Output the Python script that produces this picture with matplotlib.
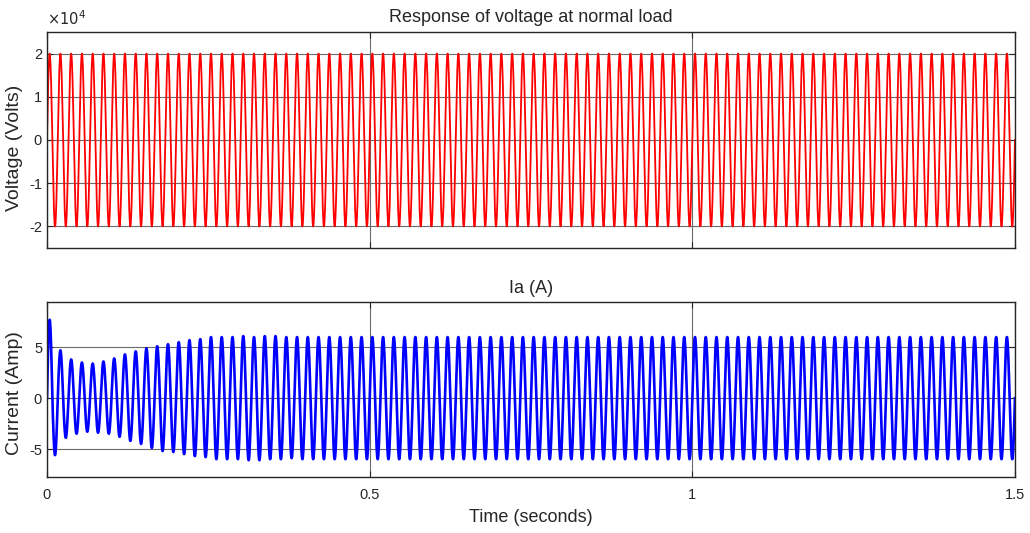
import numpy as np
import matplotlib
matplotlib.use("Agg")
import matplotlib.pyplot as plt

# signal settings
freq = 60.0          # cycles per second (30 cycles per 0.5 s)
t_end = 1.5
v_amp = 2.0e4        # voltage peak

# current: per-cycle positive peaks and negative troughs during the start-up
ia_pos = [7.7, 4.7, 3.8, 3.5, 3.4, 3.6, 3.9, 4.3, 4.6, 4.9, 5.1, 5.3,
          5.5, 5.7, 5.8, 6.0, 6.0, 6.0, 6.1, 6.0, 6.1, 6.1, 6.0]
ia_neg = [-5.6, -3.9, -3.5, -3.3, -3.4, -3.5, -3.8, -4.2, -4.5, -4.9, -5.2, -5.3,
          -5.5, -5.7, -5.8, -6.0, -6.0, -6.0, -6.1, -6.1, -6.0, -6.0, -5.9]
ia_steady = 6.0      # peak after the transient

x_ticks = [0, 0.5, 1, 1.5]
x_ticklabels = ["0", "0.5", "1", "1.5"]
v_ticks = [-2e4, -1e4, 0, 1e4, 2e4]
v_ticklabels = ["-2", "-1", "0", "1", "2"]
ia_ticks = [-5, 0, 5]


def half_cycles(pos, neg, f, n_pts=40):
    # join half sine arcs, one arc per peak value
    half = 0.5 / f
    ts, ys = [], []
    k = 0
    for p, n in zip(pos, neg):
        for a in (p, n):
            u = np.linspace(0, 1, n_pts, endpoint=False)
            ts.append((k + u) * half)
            ys.append(a * np.sin(np.pi * u))
            k += 1
    ts.append([k * half])
    ys.append([0.0])
    return np.concatenate(ts), np.concatenate(ys)


n_cycles = int(round(freq * t_end))
v_t, v = half_cycles([v_amp] * n_cycles, [-v_amp] * n_cycles, freq)
pad = n_cycles - len(ia_pos)
ia_t, ia = half_cycles(ia_pos + [ia_steady] * pad,
                       ia_neg + [-ia_steady] * pad, freq)

plt.rcParams['font.family'] = ['Liberation Sans', 'DejaVu Sans']
plt.rcParams['axes.unicode_minus'] = False
txt = '0.15'

fig = plt.figure(figsize=(10.3, 5.33), dpi=100)
ax1 = fig.add_axes([0.0456, 0.5347, 0.9398, 0.4053])
ax2 = fig.add_axes([0.0456, 0.1051, 0.9398, 0.3283])

ax1.plot(v_t, v, color='#ff0000', lw=1.3)
ax2.plot(ia_t, ia, color='#0000ff', lw=1.9)

for ax in (ax1, ax2):
    ax.set_xlim(0, t_end)
    ax.set_xticks(x_ticks)
    ax.grid(True, color='0.42', lw=0.8)
    ax.tick_params(direction='in', top=True, right=True, length=4,
                   labelsize=10.5, colors=txt, width=0.8)
    ax.tick_params(axis='x', pad=8)
    for s in ax.spines.values():
        s.set_color('0.15')
        s.set_linewidth(1.0)

ax1.set_ylim(-2.5e4, 2.5e4)
ax1.set_yticks(v_ticks)
ax1.set_yticklabels(v_ticklabels)
ax1.annotate(r'$\times10^{4}$', xy=(0, 1), xycoords='axes fraction',
             xytext=(0, 3), textcoords='offset points', ha='left', va='bottom',
             fontsize=10.5, color=txt)
ax1.set_xticklabels([])
ax1.set_ylabel("Voltage (Volts)", fontsize=14, color=txt)
ax1.yaxis.set_label_coords(-0.0245, 0.465)
ax1.set_title("Response of voltage at normal load", fontsize=13, color=txt, pad=7.2)

ax2.set_ylim(-7.75, 9.45)
ax2.set_yticks(ia_ticks)
ax2.set_xticklabels(x_ticklabels)
ax2.set_ylabel("Current (Amp)", fontsize=14, color=txt)
ax2.yaxis.set_label_coords(-0.0245, 0.48)
ax2.set_xlabel("Time (seconds)", fontsize=13, color=txt, labelpad=5)
ax2.set_title("Ia (A)", fontsize=13, color=txt, pad=6.7)

fig.savefig("out.png", dpi=100)
